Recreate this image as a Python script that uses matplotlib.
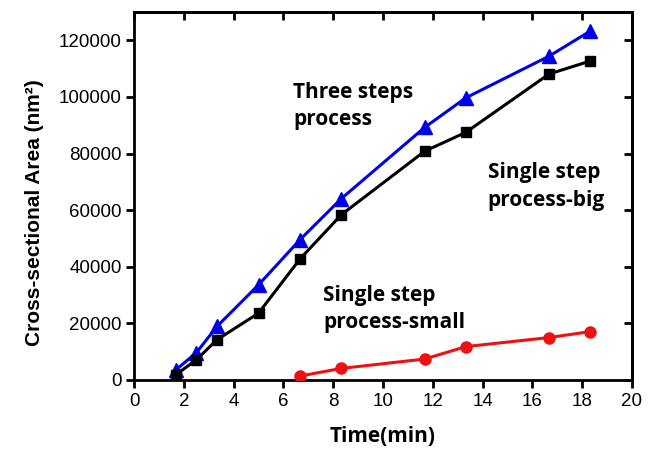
import matplotlib
matplotlib.use("Agg")
import matplotlib.pyplot as plt

# Data (time in min, area in nm^2)
t_three = [1.67, 2.5, 3.33, 5.0, 6.67, 8.33, 11.67, 13.33, 16.67, 18.33]
a_three = [3500, 9600, 18900, 33600, 49600, 64100, 89200, 99700, 114400, 123300]

t_big = [1.67, 2.5, 3.33, 5.0, 6.67, 8.33, 11.67, 13.33, 16.67, 18.33]
a_big = [1800, 7100, 14200, 23600, 42800, 58400, 80800, 87500, 108100, 112700]

t_small = [6.67, 8.33, 11.67, 13.33, 16.67, 18.33]
a_small = [1400, 4100, 7400, 11800, 15000, 17100]

x_ticks = [0, 2, 4, 6, 8, 10, 12, 14, 16, 18, 20]
y_ticks = [0, 20000, 40000, 60000, 80000, 100000, 120000]

fig = plt.figure(figsize=(6.59, 4.51), dpi=100)
ax = fig.add_axes([134/659, 1-380/451, (632-134)/659, (380-12)/451])

ax.plot(t_three, a_three, color="#0000e6", lw=2.2, marker="^", ms=10, zorder=3)
ax.plot(t_big, a_big, color="black", lw=2.2, marker="s", ms=7, zorder=3)
ax.plot(t_small, a_small, color="#ee1111", lw=2.2, marker="o", ms=8, zorder=3)

ax.set_xlim(0, 20)
ax.set_ylim(0, 130000)
ax.set_xticks(x_ticks)
ax.set_yticks(y_ticks)

tickfont = dict(family="Liberation Sans", size=13.5)
ax.set_xticklabels([str(v) for v in x_ticks], **tickfont)
ax.set_yticklabels([str(v) for v in y_ticks], **tickfont)
ax.tick_params(direction="out", length=6, width=2, pad=3)

for s in ax.spines.values():
    s.set_linewidth(2)

top = ax.secondary_xaxis("top")
top.set_xticks(x_ticks)
top.tick_params(direction="in", length=6, width=2, labeltop=False)
top.spines["top"].set_linewidth(2)
right = ax.secondary_yaxis("right")
right.set_yticks(y_ticks)
right.tick_params(direction="in", length=6, width=2, labelright=False)
right.spines["right"].set_linewidth(2)

ax.set_xlabel("Time(min)", family="Open Sans", weight="bold", size=15, labelpad=12)
ax.set_ylabel("Cross-sectional Area (nm²)", family="Liberation Sans", weight="bold", size=15)
ax.yaxis.set_label_coords(-0.18, 0.454)

annot = dict(family="Open Sans", weight="bold", size=15, ha="left", va="center", linespacing=1.4)
ax.text(6.4, 96800, "Three steps\nprocess", **annot)
ax.text(14.2, 68300, "Single step\nprocess-big", **annot)
ax.text(7.6, 25100, "Single step\nprocess-small", **annot)

fig.savefig("out.png", dpi=100)
